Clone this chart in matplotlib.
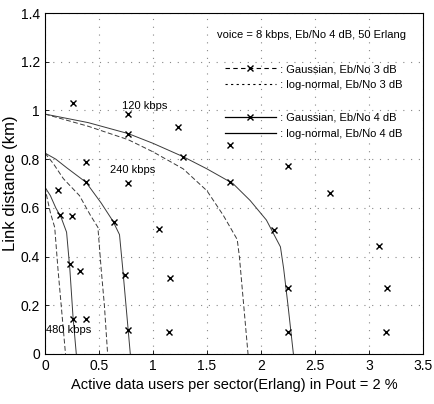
import numpy as np
import matplotlib
matplotlib.use("Agg")
from matplotlib import pyplot as plt
from matplotlib.lines import Line2D

plt.rcParams['font.family'] = ['Liberation Sans', 'DejaVu Sans']

# log-normal curves (Erlang, km) for each data rate
ln120_3dB_x = [0, 0.4, 0.77, 1.0, 1.28, 1.5, 1.65, 1.78, 1.80, 1.83, 1.86, 1.88]
ln120_3dB_y = [0.985, 0.935, 0.88, 0.83, 0.76, 0.67, 0.57, 0.47, 0.40, 0.25, 0.10, 0]
ln120_4dB_x = [0, 0.4, 0.77, 1.0, 1.28, 1.5, 1.74, 1.9, 2.05, 2.18, 2.21, 2.25, 2.3]
ln120_4dB_y = [0.985, 0.95, 0.905, 0.865, 0.81, 0.76, 0.70, 0.63, 0.55, 0.44, 0.35, 0.20, 0]

ln240_3dB_x = [0, 0.08, 0.17, 0.32, 0.42, 0.49, 0.52, 0.55, 0.58]
ln240_3dB_y = [0.825, 0.78, 0.72, 0.65, 0.57, 0.52, 0.35, 0.20, 0]
ln240_4dB_x = [0, 0.1, 0.2, 0.38, 0.52, 0.63, 0.69, 0.72, 0.75, 0.79]
ln240_4dB_y = [0.825, 0.80, 0.765, 0.705, 0.62, 0.545, 0.49, 0.35, 0.20, 0]

ln480_3dB_x = [0, 0.02, 0.05, 0.09, 0.12, 0.16, 0.19]
ln480_3dB_y = [0.685, 0.64, 0.58, 0.52, 0.35, 0.15, 0]
ln480_4dB_x = [0, 0.05, 0.1, 0.15, 0.2, 0.23, 0.26, 0.29]
ln480_4dB_y = [0.685, 0.65, 0.60, 0.56, 0.50, 0.35, 0.15, 0]

# Gaussian simulation points
g3_x = [0.26, 0.77, 1.23, 0.38, 0.12, 1.71, 2.25, 2.64, 0.25, 1.06, 0.32, 1.16, 0.38, 1.15, 3.09, 3.17, 3.16]
g3_y = [1.03, 0.985, 0.93, 0.79, 0.675, 0.86, 0.77, 0.66, 0.565, 0.515, 0.34, 0.31, 0.145, 0.09, 0.445, 0.27, 0.09]
g4_x = [0.77, 1.28, 0.38, 0.77, 1.71, 0.14, 0.64, 0.23, 0.74, 0.26, 0.77, 2.12, 2.25, 2.25]
g4_y = [0.905, 0.81, 0.705, 0.70, 0.705, 0.57, 0.54, 0.37, 0.325, 0.145, 0.10, 0.51, 0.27, 0.09]

rate_labels = ['120 kbps', '240 kbps', '480 kbps']
rate_label_pos = [(0.71, 1.02), (0.60, 0.755), (0.01, 0.10)]

xticks = [0, 0.5, 1, 1.5, 2, 2.5, 3, 3.5]
yticks = [0, 0.2, 0.4, 0.6, 0.8, 1, 1.2, 1.4]

fig = plt.figure(figsize=(4.35, 4.04), dpi=100)
ax = fig.add_axes([0.1034, 0.1238, 0.8690, 0.8440])

lc = '#3a3a3a'
for xs, ys in [(ln120_3dB_x, ln120_3dB_y), (ln240_3dB_x, ln240_3dB_y), (ln480_3dB_x, ln480_3dB_y)]:
    ax.plot(xs, ys, color=lc, lw=0.7, ls=(0, (5, 2.5)))
for xs, ys in [(ln120_4dB_x, ln120_4dB_y), (ln240_4dB_x, ln240_4dB_y), (ln480_4dB_x, ln480_4dB_y)]:
    ax.plot(xs, ys, color=lc, lw=0.7, ls='-')

ax.plot(g3_x, g3_y, ls='none', marker='x', ms=4.5, mew=1.0, color='k')
ax.plot(g4_x, g4_y, ls='none', marker='x', ms=4.5, mew=1.0, color='k')

for lab, (px, py) in zip(rate_labels, rate_label_pos):
    ax.text(px, py, lab, fontsize=8, va='center', ha='left')

ax.text(1.59, 1.309, 'voice = 8 kbps, Eb/No 4 dB, 50 Erlang', fontsize=8, va='center', ha='left')

handles = [
    Line2D([], [], color='k', lw=0.8, ls=(0, (4, 3)), marker='x', ms=5, mew=1.0),
    Line2D([], [], color='k', lw=0.8, ls=(0, (2, 3))),
    Line2D([], [], color='none'),
    Line2D([], [], color='k', lw=0.9, ls='-', marker='x', ms=5, mew=1.0),
    Line2D([], [], color='k', lw=0.9, ls='-'),
]
labels = [' : Gaussian, Eb/No 3 dB', ' : log-normal, Eb/No 3 dB', '',
          ' : Gaussian, Eb/No 4 dB', ' : log-normal, Eb/No 4 dB']
ax.legend(handles, labels, loc='upper left', bbox_to_anchor=(0.475, 0.85),
          frameon=False, fontsize=8, handlelength=4.6, handletextpad=0.1,
          labelspacing=0.55, borderpad=0.0, borderaxespad=0.0)

ax.set_xlim(0, 3.5)
ax.set_ylim(0, 1.4)
ax.set_xticks(xticks)
ax.set_yticks(yticks)
ax.set_xticklabels(['%g' % v for v in xticks])
ax.set_yticklabels(['%g' % v for v in yticks])
ax.tick_params(direction='in', length=3, labelsize=10, width=0.6)
ax.grid(True, ls=(0, (1, 6)), color='#888888', lw=0.8)
for s in ax.spines.values():
    s.set_linewidth(0.8)

ax.set_xlabel('Active data users per sector(Erlang) in Pout = 2 %', fontsize=10.5, labelpad=4)
ax.set_ylabel('Link distance (km)', fontsize=12, labelpad=2)

fig.savefig('out.png', dpi=100)
